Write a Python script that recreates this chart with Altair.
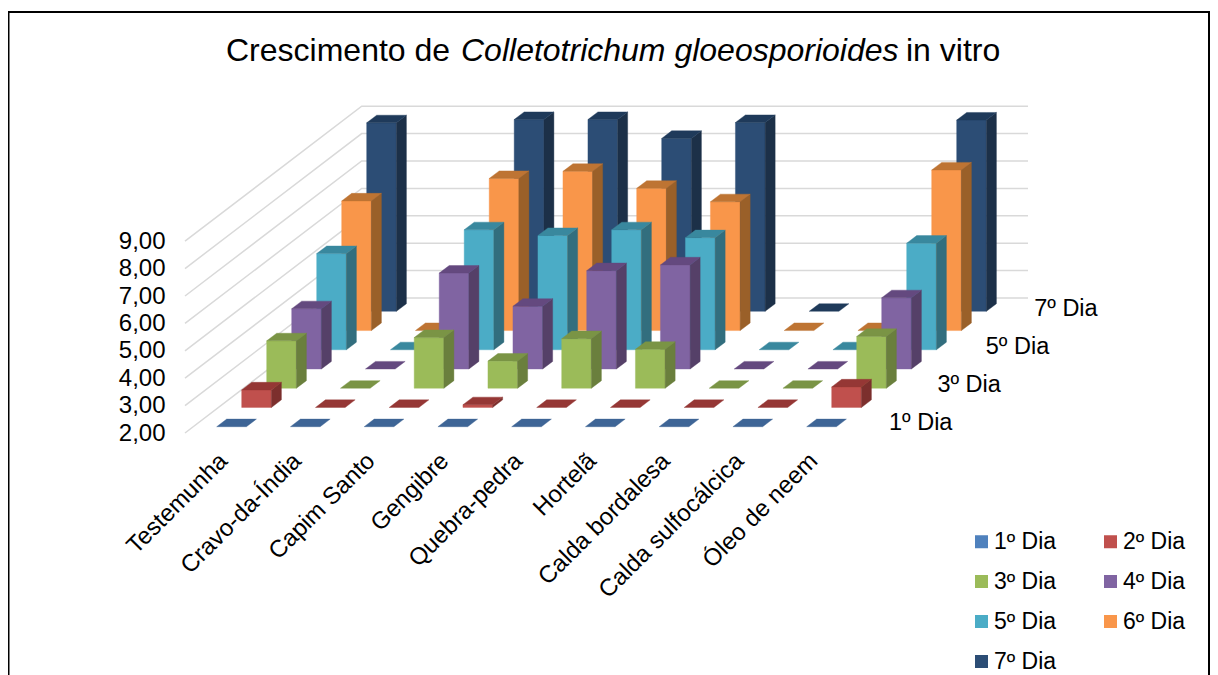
import altair as alt
import pandas as pd

categories = ["Testemunha", "Cravo-da-Índia", "Capim Santo", "Gengibre", "Quebra-pedra",
              "Hortelã", "Calda bordalesa", "Calda sulfocálcica", "Óleo de neem"]
series = ["1º Dia", "2º Dia", "3º Dia", "4º Dia", "5º Dia", "6º Dia", "7º Dia"]
dia1 = [2, 2, 2, 2, 2, 2, 2, 2, 2]
dia2 = [2.64, 2, 2, 2.1, 2, 2, 2, 2, 2.75]
dia3 = [3.73, 2, 3.85, 2.99, 3.81, 3.42, 2, 2, 3.89]
dia4 = [4.2, 2, 5.5, 4.29, 5.59, 5.8, 2, 2, 4.6]
dia5 = [5.51, 2, 6.38, 6.17, 6.38, 6.09, 2, 2, 5.89]
dia6 = [6.73, 2, 7.55, 7.81, 7.19, 6.7, 2, 2, 7.86]
dia7 = [8.88, 2, 9, 9, 8.31, 8.89, 2, 2, 8.98]
all_series = [dia1, dia2, dia3, dia4, dia5, dia6, dia7]
front_colors = ["#4F81BD", "#C0504D", "#9BBB59", "#8064A2", "#4BACC6", "#F9964A", "#2C4D75"]
top_colors = ["#3E6596", "#953735", "#7A9445", "#64497F", "#39889E", "#BE7433", "#1F3A5A"]
side_colors = ["#32517A", "#7C2F2D", "#6A7F3D", "#554068", "#326E7E", "#9A6029", "#1C3048"]
y_ticks = [2, 3, 4, 5, 6, 7, 8, 9]
depth_labels = ["1º Dia", "3º Dia", "5º Dia", "7º Dia"]
depth_index = [0, 2, 4, 6]

W, H = 843, 327
U, Y = 73.75, 27.4     # pixels per category, pixels per value unit
SX, SY = 25.0, 19.23   # shift per series
BW, DX, DY = 29.7, 10.0, 7.6  # bar width, bar depth
X0, UP0 = 31.7, 6.3


def yv(v, up):
    return v + up / Y


rows = []
fid = 0
for s in range(6, -1, -1):
    for k in range(len(categories)):
        v = all_series[s][k]
        x0 = X0 + U * k + SX * s
        up = UP0 + SY * s
        if v > 2:
            fid += 1
            for x in (x0, x0 + BW):
                rows.append((fid, front_colors[s], x / U, yv(v, up), yv(2, up)))
            fid += 1
            rows.append((fid, side_colors[s], (x0 + BW) / U, yv(v, up), yv(2, up)))
            rows.append((fid, side_colors[s], (x0 + BW + DX) / U, yv(v, up + DY), yv(2, up + DY)))
        fid += 1
        rows.append((fid, top_colors[s], x0 / U, yv(v, up), yv(v, up)))
        rows.append((fid, top_colors[s], (x0 + DX) / U, yv(v, up + DY), yv(v, up)))
        rows.append((fid, top_colors[s], (x0 + BW) / U, yv(v, up + DY), yv(v, up)))
        rows.append((fid, top_colors[s], (x0 + BW + DX) / U, yv(v, up + DY), yv(v, up + DY)))
faces = pd.DataFrame(rows, columns=["fid", "fill", "x", "y", "y2"])

grid_rows = []
for t in y_ticks:
    grid_rows.append((t, 0, t))
    grid_rows.append((t, 176.7 / U, t + 135 / Y))
    grid_rows.append((t, W / U, t + 135 / Y))
grid = pd.DataFrame(grid_rows, columns=["t", "x", "y"])

x_scale = alt.Scale(domain=[0, W / U], nice=False, zero=False)
y_scale = alt.Scale(domain=[2, 2 + H / Y], nice=False, zero=False)
LAB = 0.52
tick_vals = [LAB + k for k in range(len(categories))]
names_js = "[" + ",".join("'" + c + "'" for c in categories) + "]"

x_axis = alt.Axis(values=tick_vals, labelExpr=f"{names_js}[round(datum.value-{LAB})]",
                  labelAngle=-45, labelAlign="right", labelBaseline="middle", labelPadding=24,
                  labelFontSize=24, labelFont="Liberation Sans", labelColor="#000000", labelLimit=400,
                  domain=False, ticks=False, grid=False, title=None, labelOverlap=False, labelBound=False, labelFlush=False)
y_axis = alt.Axis(values=y_ticks, labelExpr="replace(format(datum.value,'.2f'),'.',',')",
                  labelPadding=20, labelFontSize=24, labelFont="Liberation Sans", labelColor="#000000",
                  domain=False, ticks=False, grid=False, title=None)

grid_layer = alt.Chart(grid).mark_line(color="#D9D9D9", strokeWidth=1.5).encode(
    x=alt.X("x:Q", scale=x_scale, axis=x_axis),
    y=alt.Y("y:Q", scale=y_scale, axis=y_axis),
    detail="t:N",
)

bars = alt.Chart(faces).mark_area(orient="vertical", interpolate="linear", strokeWidth=0.4).encode(
    x=alt.X("x:Q", scale=x_scale),
    y=alt.Y("y:Q", scale=y_scale),
    y2="y2:Q",
    fill=alt.Fill("fill:N", scale=None),
    stroke=alt.Stroke("fill:N", scale=None),
    detail="fid:N",
)

depth = pd.DataFrame({
    "label": depth_labels,
    "x": [(704 + 24.2 * s) / U for s in depth_index],
    "y": [2 + (10.3 + 19.0 * s) / Y for s in depth_index],
})
depth_layer = alt.Chart(depth).mark_text(align="left", baseline="middle", fontSize=23.5,
                                         font="Liberation Sans", color="#000000").encode(
    x=alt.X("x:Q", scale=x_scale), y=alt.Y("y:Q", scale=y_scale), text="label:N")

legend_layer = alt.Chart(pd.DataFrame({"series": series})).mark_square(size=0, opacity=1).encode(
    x=alt.value(0), y=alt.value(0),
    color=alt.Color("series:N", scale=alt.Scale(domain=series, range=front_colors),
                    legend=alt.Legend(title=None, orient="none", legendX=785, legendY=424, columns=2,
                                      direction="horizontal",
                                      symbolType="square", symbolSize=169, symbolStrokeWidth=0, symbolOpacity=1,
                                      labelFontSize=23, labelFont="Liberation Sans", labelColor="#000000",
                                      labelLimit=200, labelOffset=1, rowPadding=16, columnPadding=42)),
)

title_parts = ["Crescimento de", "Colletotrichum gloeosporioides", "in vitro"]
title_styles = ["normal", "italic", "normal"]
title_x = [226 - 185, 461 - 185, 906 - 185]
title_layers = [
    alt.Chart(pd.DataFrame({"t": [p]})).mark_text(align="left", baseline="alphabetic", fontSize=32,
                                                  font="Liberation Sans", fontStyle=st, color="#000000").encode(
        x=alt.value(px), y=alt.value(61 - 106), text="t:N")
    for p, st, px in zip(title_parts, title_styles, title_x)
]

border = alt.Chart(pd.DataFrame({"a": [0]})).mark_rect(stroke="#000000", strokeWidth=2, fillOpacity=0).encode(
    x=alt.value(-176.5), x2=alt.value(1024), y=alt.value(-94), y2=alt.value(700))

chart = alt.layer(border, grid_layer, bars, depth_layer, legend_layer, *title_layers).properties(
    width=W, height=H,
    autosize=alt.AutoSizeParams(type="none"),
    padding={"left": 177, "top": 98, "right": 182, "bottom": 242},
).configure_view(stroke=None)

chart.save("out.html", embed_options={"renderer": "svg", "actions": False})
